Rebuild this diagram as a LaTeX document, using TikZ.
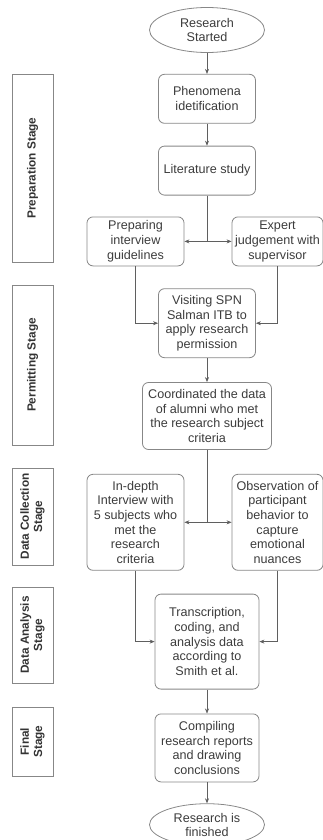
\documentclass[tikz,border=0pt]{standalone}
\usepackage{fontspec}
\setmainfont{Liberation Sans}
\usepackage{tikz}
\usetikzlibrary{shapes.geometric,arrows.meta,positioning}
\usepackage{xcolor}
\definecolor{flowline}{RGB}{95,95,95}
\definecolor{boxline}{RGB}{135,135,135}
\definecolor{flowtext}{RGB}{60,60,60}

\begin{document}
\begin{tikzpicture}[
    flowstep/.style={rectangle, draw=boxline, thick, rounded corners=6pt,
        minimum width=97pt, minimum height=49pt, inner sep=2pt, align=center,
        text=flowtext, font=\fontsize{12.6}{14.7}\selectfont},
    terminal/.style={ellipse, draw=boxline, thick, minimum width=115pt,
        minimum height=45pt, inner sep=1pt, align=center, text=flowtext,
        font=\fontsize{12.6}{14.7}\selectfont},
    stagebox/.style={rectangle, draw=boxline, thick, rotate=90,
        minimum height=41pt, inner sep=1pt, align=center, text=black!80,
        font=\bfseries\fontsize{11.8}{13.2}\selectfont},
    arr/.style={-{Stealth[length=5pt, width=4pt]}, semithick, flowline}
]
    \useasboundingbox (0,0) rectangle (323pt,-840pt);

    % main column
    \node[terminal] (start) at (207pt,-30pt) {Research\\Started};
    \node[flowstep, below=21pt of start] (phen) {Phenomena\\idetification};
    \node[flowstep, below=22pt of phen] (lit) {Literature study};
    \node[flowstep, below=21pt of lit.south, xshift=-71.5pt] (prep) {Preparing\\interview\\guidelines};
    \node[flowstep, below=21pt of lit.south, xshift=70.5pt, minimum width=91pt] (expert) {Expert\\judgement with\\supervisor};
    \coordinate (c1) at (lit.south |- prep.south);
    \node[flowstep, below=22pt of c1, minimum height=69pt] (visit) {Visiting SPN\\Salman ITB to\\apply research\\permission};
    \node[flowstep, below=24pt of visit, minimum width=129pt, minimum height=67pt] (coord) {Coordinated the data\\of alumni who met\\the research subject\\criteria};
    \node[flowstep, below=24pt of coord.south, xshift=-71.5pt, minimum height=96pt] (indepth) {In-depth\\Interview with\\5 subjects who\\met the\\research\\criteria};
    \node[flowstep, below=24pt of coord.south, xshift=70.5pt, minimum width=91pt, minimum height=96pt] (obs) {Observation of\\participant\\behavior to\\capture\\emotional\\nuances};
    \coordinate (c2) at (coord.south |- indepth.south);
    \node[flowstep, below=23pt of c2, minimum width=104pt, minimum height=95pt] (trans) {Transcription,\\coding, and\\analysis data\\according to\\Smith et al.};
    \node[flowstep, below=24pt of trans, minimum width=104pt, minimum height=68pt] (comp) {Compiling\\research reports\\and drawing\\conclusions};
    \node[terminal, below=21pt of comp, minimum height=42pt,
        font=\fontsize{12.6}{14}\selectfont] (finish) {Research is\\finished};

    \draw[arr] (start) -- (phen);
    \draw[arr] (phen) -- (lit);
    \draw[arr] (lit.south) |- (prep.east);
    \draw[arr] (lit.south) |- (expert.west);
    \draw[arr] (prep.south) |- (visit.west);
    \draw[arr] (expert.south) |- (visit.east);
    \draw[arr] (visit) -- (coord);
    \draw[arr] (coord.south) |- (indepth.east);
    \draw[arr] (coord.south) |- (obs.west);
    \draw[arr] (indepth.south) |- (trans.west);
    \draw[arr] (obs.south) |- (trans.east);
    \draw[arr] (trans) -- (comp);
    \draw[arr] (comp) -- (finish);

    % stages
    \node[stagebox, minimum width=188pt] (sprep) at (32.5pt,-168pt) {Preparation Stage};
    \node[stagebox, minimum width=160pt] (sperm) at (32.5pt,-365pt) {Permitting Stage};
    \node[stagebox, minimum width=97pt] (scoll) at (32.5pt,-516.5pt) {Data Collection\\Stage};
    \node[stagebox, minimum width=96pt] (sanal) at (32.5pt,-635pt) {Data Analysis\\Stage};
    \node[stagebox, minimum width=69pt] (sfinal) at (32.5pt,-741.5pt) {Final\\Stage};
\end{tikzpicture}
\end{document}
